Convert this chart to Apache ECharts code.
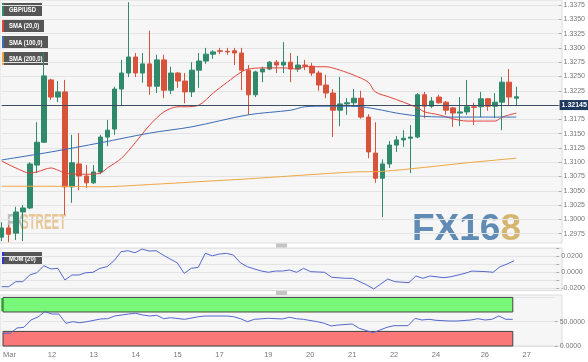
<!DOCTYPE html>
<html><head><meta charset="utf-8">
<script src="https://cdn.jsdelivr.net/npm/echarts@6/dist/echarts.min.js"></script>
<style>html,body{margin:0;padding:0;background:#fff;}#c{width:588px;height:362px;}</style>
</head><body><div id="c"></div>
<script>
// ---- data (GBP/USD 4H) ----
const opens  = [1.2969,1.2985,1.2976,1.3013,1.3020,1.3095,1.3135,1.3244,1.3214,1.3223,1.3057,1.3097,1.3076,1.3064,1.3083,1.3144,1.3158,1.3228,1.3256,1.3284,1.3256,1.3272,1.3233,1.3279,1.3226,1.3256,1.3242,1.3223,1.3261,1.3277,1.3289,1.3295,1.3294,1.3295,1.3291,1.3261,1.3218,1.3258,1.3263,1.3275,1.3270,1.3275,1.3263,1.3270,1.3268,1.3256,1.3235,1.3221,1.3191,1.3202,1.3204,1.3212,1.3179,1.3116,1.3072,1.3097,1.3130,1.3139,1.3142,1.3144,1.3218,1.3198,1.3214,1.3205,1.3195,1.3186,1.3188,1.3197,1.3197,1.3211,1.3198,1.3205,1.3240,1.3212];
const closes = [1.2985,1.2974,1.3013,1.3020,1.3097,1.3135,1.3251,1.3214,1.3223,1.3057,1.3099,1.3076,1.3064,1.3083,1.3144,1.3156,1.3228,1.3256,1.3284,1.3256,1.3272,1.3233,1.3279,1.3226,1.3256,1.3242,1.3223,1.3261,1.3277,1.3289,1.3293,1.3294,1.3293,1.3291,1.3261,1.3218,1.3258,1.3263,1.3275,1.3270,1.3275,1.3263,1.3270,1.3268,1.3256,1.3235,1.3221,1.3191,1.3202,1.3204,1.3212,1.3179,1.3118,1.3072,1.3097,1.3130,1.3139,1.3142,1.3144,1.3218,1.3198,1.3207,1.3204,1.3191,1.3186,1.3188,1.3197,1.3196,1.3211,1.3198,1.3205,1.3240,1.3214,1.32145];
const lows   = [1.2962,1.2960,1.2964,1.2962,1.3018,1.3081,1.3134,1.3209,1.3205,1.3008,1.3029,1.3051,1.3055,1.3062,1.3079,1.3128,1.3148,1.3200,1.3249,1.3249,1.3239,1.3218,1.3221,1.3212,1.3219,1.3230,1.3203,1.3214,1.3230,1.3272,1.3281,1.3289,1.3288,1.3270,1.3226,1.3183,1.3214,1.3240,1.3261,1.3256,1.3256,1.3240,1.3258,1.3261,1.3251,1.3225,1.3212,1.3144,1.3163,1.3183,1.3197,1.3176,1.3107,1.3064,1.3004,1.3090,1.3118,1.3127,1.3081,1.3142,1.3177,1.3195,1.3202,1.3183,1.3162,1.3163,1.3183,1.3165,1.3179,1.3190,1.3177,1.3156,1.3198,1.3200];
const highs  = [1.2995,1.2990,1.3022,1.3025,1.3100,1.3170,1.3291,1.3246,1.3242,1.3244,1.3148,1.3151,1.3095,1.3095,1.3148,1.3174,1.3232,1.3279,1.3380,1.3291,1.3291,1.3330,1.3288,1.3288,1.3267,1.3258,1.3256,1.3275,1.3291,1.3300,1.3296,1.3300,1.3300,1.3300,1.3300,1.3270,1.3260,1.3267,1.3277,1.3279,1.3310,1.3291,1.3286,1.3279,1.3274,1.3260,1.3253,1.3228,1.3249,1.3212,1.3228,1.3225,1.3184,1.3170,1.3105,1.3137,1.3146,1.3156,1.3165,1.3221,1.3223,1.3214,1.3218,1.3207,1.3197,1.3214,1.3244,1.3204,1.3223,1.3212,1.3221,1.3249,1.3263,1.3232];
const lastPrice = 1.32145;

const sma20Idx = [0,2,4,5,7,8,9,11,12,14,15,17,19,21,23,25,26,28,30,32,34,35,37,40,42,43,46,48,50,52,53,55,57,59,60,62,64,66,68,70,71,73];
const sma20Val = [1.3102,1.3090,1.3081,1.3083,1.3090,1.3086,1.3081,1.3079,1.3079,1.3081,1.3090,1.3107,1.3135,1.3165,1.3188,1.3197,1.3197,1.3200,1.3221,1.3240,1.3258,1.3263,1.3265,1.3265,1.3263,1.3267,1.3267,1.3261,1.3252,1.3240,1.3223,1.3214,1.3205,1.3195,1.3188,1.3183,1.3176,1.3172,1.3172,1.3172,1.3179,1.3186];
const sma100Idx = [0,7,14,21,27,35,41,43,46,48,51,54,56,59,63,68,73];
const sma100Val = [1.3104,1.3118,1.3134,1.3151,1.3162,1.3183,1.3191,1.3197,1.3198,1.3198,1.3197,1.3191,1.3186,1.3181,1.3179,1.3179,1.3179];
const sma200Idx = [0,7,14,21,28,35,41,50,54,60,66,73];
const sma200Val = [1.3058,1.3058,1.3057,1.3061,1.3066,1.3071,1.3076,1.3083,1.3084,1.3091,1.3099,1.3107];

const momIdx = [0,1,2,3,4,5,6,7,8,9,10,11,12,13,14,15,16,17,18,19,20,21,22,23,24,25,26,27,28,29,30,31,32,33,34,35,36,37,38,39,40,41,42,43,44,46,47,49,50,52,53,55,56,58,59,60,61,63,64,66,67,69,70,71,72,73];
const momVal = [-0.0182,-0.0182,-0.0119,-0.0119,-0.0034,-0.0005,0.0083,0.0042,0.0050,-0.0097,-0.0034,-0.0034,-0.0005,0.0000,0.0050,0.0071,0.0146,0.0260,0.0273,0.0247,0.0294,0.0269,0.0273,0.0218,0.0168,0.0121,-0.0013,0.0050,0.0063,0.0240,0.0209,0.0231,0.0240,0.0218,0.0121,0.0071,0.0042,0.0016,0.0000,0.0016,0.0016,0.0029,0.0000,0.0050,0.0008,0.0000,-0.0063,-0.0076,-0.0076,-0.0160,-0.0211,-0.0085,-0.0119,-0.0131,-0.0047,-0.0076,-0.0047,-0.0068,-0.0056,-0.0013,0.0016,0.0008,0.0000,0.0071,0.0105,0.0146];

const rsiIdx = [0,1,2,3,4,5,6,7,8,9,10,11,12,14,15,16,18,19,20,21,22,23,24,26,28,29,32,33,34,35,36,38,40,41,42,43,45,46,47,48,50,51,53,55,56,58,59,60,61,62,64,65,67,68,69,70,71,72,73];
const rsiVal = [26.1,26.1,37.0,38.5,53.5,59.7,70.6,65.8,65.8,46.7,50.0,47.9,50.0,55.6,56.2,61.7,65.8,67.3,63.8,61.7,63.2,56.2,58.2,54.9,60.3,61.7,61.7,60.3,56.2,50.0,54.9,57.0,55.6,59.1,56.2,54.9,50.0,46.7,41.2,43.2,45.3,36.4,27.4,38.5,41.8,41.8,57.0,53.5,54.9,52.9,51.4,51.4,53.5,56.2,53.5,54.9,61.7,54.9,54.9];
const rsiUpper = 70, rsiLower = 30;

const slotCount = 80; // 74 candles + empty right margin
const tickIdx  = [0,7,13,19,25,31,38,44,50,56,62,69,75];
const tickText = ['Mar','12','13','14','15','17','19','20','21','22','24','26','27'];

// ---- build ----
const categories = Array.from({length: slotCount}, (_, i) => String(i));
const candles = opens.map((o, i) => [o, closes[i], lows[i], highs[i]]);
function sparse(idx, vals) { const a = new Array(opens.length).fill(null); idx.forEach((k, j) => a[k] = vals[j]); return a; }

const GREEN = '#2f8a6b', RED = '#d8533b';
const FONT = 'Liberation Sans, Arial, sans-serif';
const LEFT = 1.7, WIDTH = 560.1;

function frameGrid(top, height) {
  return {left: 0, top: top, width: 562, height: height, show: true, backgroundColor: '#f6f6f7', borderColor: '#dcdcdc', borderWidth: 1, z: -1};
}
function labelBox(x, y, w, text, stripe, bg) {
  return {type: 'group', x: x, y: y, z: 100, children: [
    {type: 'rect', shape: {x: 0, y: 0, width: w, height: 13}, style: {fill: bg || 'rgba(72,72,72,0.92)'}},
    {type: 'rect', shape: {x: 0, y: 0, width: 2, height: 13}, style: {fill: stripe}},
    {type: 'text', x: 7, y: 7, scaleX: 0.74, style: {x: 0, y: 0, text: text, fill: '#fff', font: 'bold 8px ' + FONT, verticalAlign: 'middle'}}
  ]};
}
const hiddenX = (g) => ({gridIndex: g, type: 'value', show: false});
const dataX = (g, showLabels) => ({
  gridIndex: g, type: 'category', data: categories, boundaryGap: false,
  axisLine: {show: false}, axisTick: {show: false}, splitLine: {show: false},
  axisLabel: showLabels ? {
    show: true, fontSize: 7.5, color: '#777', fontFamily: FONT, margin: 5,
    interval: (i) => tickIdx.indexOf(i) >= 0,
    formatter: (v, i) => { const k = tickIdx.indexOf(i); return k >= 0 ? tickText[k] : ''; },
    alignMinLabel: 'left'
  } : {show: false}
});
const axisLbl = {fontSize: 7, color: '#777', fontFamily: FONT, margin: 5};
const tick = {show: true, length: 3, lineStyle: {color: '#aaa'}};

const option = {
  animation: false,
  backgroundColor: '#ffffff',
  grid: [
    frameGrid(0, 243),
    {left: LEFT, top: 5, width: WIDTH, height: 228.7},
    frameGrid(248, 42.5),
    {left: LEFT, top: 248.6, width: WIDTH, height: 39.5},
    frameGrid(295, 51),
    {left: LEFT, top: 297.4, width: WIDTH, height: 48.6}
  ],
  xAxis: [hiddenX(0), dataX(1, false), hiddenX(2), dataX(3, false), hiddenX(4), dataX(5, true)],
  yAxis: [
    {gridIndex: 0, type: 'value', show: false},
    {gridIndex: 1, type: 'value', position: 'right', min: 1.2975, max: 1.3375, interval: 0.0025, z: 1,
     axisLine: {show: false}, axisTick: tick,
     axisLabel: Object.assign({formatter: v => v.toFixed(4)}, axisLbl),
     splitLine: {lineStyle: {color: '#e4e4e6', width: 1}}},
    {gridIndex: 2, type: 'value', show: false},
    {gridIndex: 3, type: 'value', position: 'right', min: -0.02, max: 0.03, interval: 0.01, z: 1,
     axisLine: {show: false}, axisTick: tick,
     axisLabel: Object.assign({formatter: v => (Math.round(v * 100) % 2 === 0 ? v.toFixed(4) : '')}, axisLbl),
     splitLine: {lineStyle: {color: '#e4e4e6', width: 1}}},
    {gridIndex: 4, type: 'value', show: false},
    {gridIndex: 5, type: 'value', position: 'right', min: 0, max: 100, interval: 50, z: 1,
     axisLine: {show: false}, axisTick: tick,
     axisLabel: Object.assign({formatter: v => v.toFixed(4), showMaxLabel: false}, axisLbl),
     splitLine: {lineStyle: {color: '#e4e4e6', width: 1}}}
  ],
  series: [
    {type: 'candlestick', xAxisIndex: 1, yAxisIndex: 1, data: candles, barWidth: 5, clip: false,
     itemStyle: {color: GREEN, color0: RED, borderColor: GREEN, borderColor0: RED, borderWidth: 1},
     markLine: {silent: true, symbol: ['none', 'none'], animation: false,
       lineStyle: {color: '#3b4d63', width: 1, type: 'solid'},
       label: {position: 'end', distance: 1, formatter: lastPrice.toFixed(5), color: '#fff', backgroundColor: '#1d3a5e',
               fontSize: 7, fontWeight: 'bold', fontFamily: FONT, padding: [2, 2, 1, 2]},
       data: [{yAxis: lastPrice}]}},
    {type: 'line', name: 'SMA20', xAxisIndex: 1, yAxisIndex: 1, data: sparse(sma20Idx, sma20Val), connectNulls: true,
     smooth: 0.3, showSymbol: false, lineStyle: {color: '#e0443a', width: 1}, z: 3},
    {type: 'line', name: 'SMA100', xAxisIndex: 1, yAxisIndex: 1, data: sparse(sma100Idx, sma100Val), connectNulls: true,
     smooth: 0.3, showSymbol: false, lineStyle: {color: '#3a6db3', width: 1}, z: 3},
    {type: 'line', name: 'SMA200', xAxisIndex: 1, yAxisIndex: 1, data: sparse(sma200Idx, sma200Val), connectNulls: true,
     smooth: 0.3, showSymbol: false, lineStyle: {color: '#f0a640', width: 1}, z: 3},
    {type: 'line', name: 'MOM', xAxisIndex: 3, yAxisIndex: 3, data: sparse(momIdx, momVal), connectNulls: true, clip: false,
     showSymbol: false, lineStyle: {color: '#5567cc', width: 1}},
    {type: 'line', name: 'RSI', xAxisIndex: 5, yAxisIndex: 5, data: sparse(rsiIdx, rsiVal), connectNulls: true,
     showSymbol: false, lineStyle: {color: '#5567cc', width: 1}, z: 3,
     markArea: {silent: true, itemStyle: {borderColor: '#444', borderWidth: 1},
       data: [
         [{xAxis: '0', yAxis: rsiUpper, itemStyle: {color: '#79f779'}}, {xAxis: String(opens.length - 1), yAxis: 100}],
         [{xAxis: '0', yAxis: 0, itemStyle: {color: '#fa7878'}}, {xAxis: String(opens.length - 1), yAxis: rsiLower}]
       ]}}
  ],
  graphic: [
    {type: 'text', x: 7, y: 212, z: 1, scaleX: 0.6, style: {text: 'FX', fill: 'rgba(120,120,120,0.45)', font: 'bold 22px ' + FONT}},
    {type: 'text', x: 21, y: 212, z: 1, scaleX: 0.52, style: {text: 'STREET', fill: 'rgba(226,178,110,0.7)', font: 'bold 22px ' + FONT}},
    {type: 'text', x: 412, y: 211, z: 1, style: {text: '{a|FX16}{b|8}', font: 'bold 37px ' + FONT,
      rich: {a: {fill: 'rgba(80,128,172,0.9)', font: 'bold 37px ' + FONT}, b: {fill: 'rgba(210,175,95,0.9)', font: 'bold 37px ' + FONT}}}},
    {type: 'rect', x: 276, y: 243.5, z: 50, shape: {width: 11, height: 4}, style: {fill: '#c4c4c4'}},
    {type: 'rect', x: 276, y: 291, z: 50, shape: {width: 11, height: 4}, style: {fill: '#c4c4c4'}},
    labelBox(2, 3, 40, 'GBP/USD', GREEN),
    labelBox(2, 19, 42, 'SMA (20,0)', '#e0443a'),
    labelBox(2, 36, 46, 'SMA (100,0)', '#3a6db3'),
    labelBox(2, 52, 46, 'SMA (200,0)', '#f0a640'),
    labelBox(2, 252, 40, 'MOM (20)', '#2a3ad0'),
    labelBox(1, 298, 57, 'RSI (14,70,30,1)', '#35e035', 'rgba(45,70,45,0.92)')
  ]
};
const chart = echarts.init(document.getElementById('c'), null, {renderer: 'canvas'});
chart.setOption(option);
</script></body></html>
